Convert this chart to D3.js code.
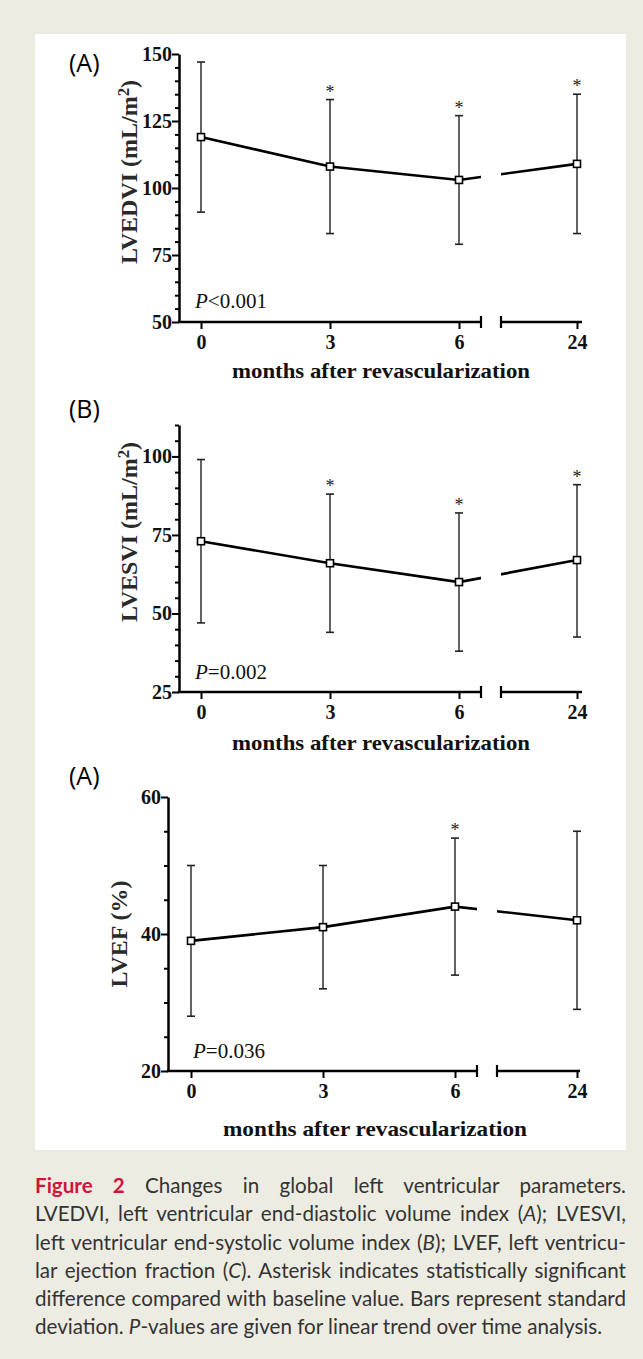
<!DOCTYPE html>
<html>
<head>
<meta charset="utf-8">
<script src="https://cdn.jsdelivr.net/npm/d3@7"></script>
<style>
  body { margin: 0; background: #edece3; }
  #container { position: relative; width: 643px; height: 1359px; }
  #container svg { position: absolute; left: 0; top: 0; }
  #caption { position: absolute; left: 35px; top: 1171px; width: 591px;
    font-family: Lato, "Open Sans", sans-serif; font-size: 20.6px; line-height: 28.3px; color: #333; }
  #caption .ln { text-align: justify; text-align-last: justify; white-space: nowrap; }
  #caption .ln.last { text-align-last: left; }
  #caption .fig { color: #d0143c; font-weight: bold; }
</style>
</head>
<body>
<div id="container">
  <div id="caption">
    <div class="ln"><span class="fig">Figure 2</span> Changes in global left ventricular parameters.</div>
    <div class="ln">LVEDVI, left ventricular end-diastolic volume index (<i>A</i>); LVESVI,</div>
    <div class="ln">left ventricular end-systolic volume index (<i>B</i>); LVEF, left ventricu-</div>
    <div class="ln">lar ejection fraction (<i>C</i>). Asterisk indicates statistically significant</div>
    <div class="ln">difference compared with baseline value. Bars represent standard</div>
    <div class="ln last">deviation. <i>P</i>-values are given for linear trend over time analysis.</div>
  </div>
</div>
<script>
const months = [0, 3, 6, 24];
const monthLabels = ["0", "3", "6", "24"];

const lvedviMean = [119, 108, 103, 109];
const lvedviHigh = [147, 133, 127, 135];
const lvedviLow = [91, 83, 79, 83];
const lvedviStar = [false, true, true, true];
const lvedviTicks = [50, 75, 100, 125, 150];

const lvesviMean = [73, 66, 60, 67];
const lvesviHigh = [99, 88, 82, 91];
const lvesviLow = [47, 44, 38, 42.5];
const lvesviStar = [false, true, true, true];
const lvesviTicks = [25, 50, 75, 100];

const lvefMean = [39, 41, 44, 42];
const lvefHigh = [50, 50, 54, 55];
const lvefLow = [28, 32, 34, 29];
const lvefStar = [false, false, true, false];
const lvefTicks = [20, 40, 60];

const serif = '"Liberation Serif", "Times New Roman", serif';

const svg = d3.select('#container')
    .insert('svg', '#caption').attr('width', 643).attr('height', 1359);

svg.append('rect').attr('x', 35).attr('y', 34).attr('width', 591).attr('height', 1116).attr('fill', '#fff');

let clipId = 0;

const drawPanel = (svg, specs, mean, high, low, star, ticks) => {
    const y = d3.scaleLinear().domain(specs.yDomain).range([specs.bottom, specs.top]);
    const x = d3.scaleLinear().domain([0, 6, 24]).range(specs.xRange);
    const g = svg.append('g');

    // panel letter
    g.append('text').attr('x', 69).attr('y', specs.labelY).attr('dy', '0.35em')
        .attr('font-family', '"Open Sans", sans-serif').attr('font-size', 25).text(specs.label);

    // y axis, major + minor ticks
    const minor = d3.range(specs.yDomain[0], specs.yDomain[1] + 0.1, 5).filter(v => !ticks.includes(v));
    const yMinor = g.append('g').attr('transform', `translate(${specs.axisX},0)`)
        .call(d3.axisLeft(y).tickValues(minor).tickSize(4).tickFormat(''));
    yMinor.select('.domain').remove();
    yMinor.selectAll('line').attr('stroke-width', 2);
    const yAxis = g.append('g').attr('transform', `translate(${specs.axisX},0)`)
        .call(d3.axisLeft(y).tickValues(ticks).tickSize(7).tickPadding(0).tickSizeOuter(0));
    yAxis.select('.domain').attr('stroke-width', 2.5);
    yAxis.selectAll('line').attr('stroke-width', 2);
    yAxis.selectAll('text').attr('font-family', serif).attr('font-weight', 'bold')
        .attr('font-size', 20).attr('fill', '#111');

    // x axis with break
    const xAxis = g.append('g').attr('transform', `translate(0,${specs.bottom})`)
        .call(d3.axisBottom(x).tickValues(months).tickSize(7).tickPadding(6)
            .tickFormat((d, i) => monthLabels[i]));
    xAxis.select('.domain').remove();
    xAxis.selectAll('line').attr('stroke-width', 2);
    xAxis.selectAll('text').attr('font-family', serif).attr('font-weight', 'bold')
        .attr('font-size', 20).attr('fill', '#111');
    const segs = [[specs.axisX, specs.brk[0]], [specs.brk[1], specs.end]];
    segs.forEach(s => {
        g.append('line').attr('x1', s[0] - (s[0] === specs.axisX ? 1.2 : 0)).attr('x2', s[1])
            .attr('y1', specs.bottom).attr('y2', specs.bottom)
            .attr('stroke', '#000').attr('stroke-width', 2.5);
    });
    specs.brk.forEach(bx => {
        g.append('line').attr('x1', bx).attr('x2', bx)
            .attr('y1', specs.bottom - 6).attr('y2', specs.bottom + 6)
            .attr('stroke', '#000').attr('stroke-width', 2.2);
    });

    // axis titles
    const yt = g.append('text')
        .attr('transform', `translate(${specs.yTitleX},${specs.yTitleY}) rotate(-90)`)
        .attr('text-anchor', 'middle').attr('font-family', serif).attr('font-weight', 'bold')
        .attr('font-size', specs.yTitleSize).attr('fill', '#2a2a2a');
    yt.append('tspan').text(specs.yTitle[0]);
    if (specs.yTitle[1]) {
        yt.append('tspan').attr('font-size', '70%').attr('dy', '-0.5em').text(specs.yTitle[1]);
        yt.append('tspan').attr('dy', '0.35em').text(specs.yTitle[2]);
    }
    g.append('text').attr('x', specs.xTitleX).attr('y', specs.xTitleY).attr('dy', '0.35em')
        .attr('text-anchor', 'middle').attr('font-family', serif).attr('font-weight', 'bold')
        .attr('font-size', 21).attr('fill', '#111')
        .attr('textLength', specs.xTitleLen).attr('lengthAdjust', 'spacingAndGlyphs')
        .text('months after revascularization');

    // P value
    const pt = g.append('text').attr('x', specs.pX).attr('y', specs.pY).attr('dy', '0.35em')
        .attr('font-family', serif).attr('font-size', 21).attr('fill', '#111');
    pt.append('tspan').attr('font-style', 'italic').text('P');
    pt.append('tspan').text(specs.pText);

    // mean line, interrupted at the axis break
    const cid = 'clip' + (clipId++);
    const cp = svg.append('clipPath').attr('id', cid);
    cp.append('rect').attr('x', 0).attr('y', 0).attr('width', specs.brk[0]).attr('height', 1359);
    cp.append('rect').attr('x', specs.brk[1]).attr('y', 0).attr('width', 643 - specs.brk[1]).attr('height', 1359);
    const line = d3.line().x((d, i) => x(months[i])).y(d => y(d));
    g.append('path').attr('d', line(mean)).attr('clip-path', `url(#${cid})`)
        .attr('fill', 'none').attr('stroke', '#000').attr('stroke-width', 2.6);

    // error bars
    months.forEach((m, i) => {
        const cx = x(m);
        g.append('line').attr('x1', cx).attr('x2', cx).attr('y1', y(low[i])).attr('y2', y(high[i]))
            .attr('stroke', '#222').attr('stroke-width', 1.4);
        [low[i], high[i]].forEach(v => {
            g.append('line').attr('x1', cx - 4).attr('x2', cx + 4).attr('y1', y(v)).attr('y2', y(v))
                .attr('stroke', '#222').attr('stroke-width', 1.6);
        });
        if (star[i]) {
            g.append('text').attr('x', cx).attr('y', y(high[i]) - 2).attr('text-anchor', 'middle')
                .attr('font-family', serif).attr('font-size', 18).attr('fill', '#222').text('*');
        }
    });

    // markers
    g.selectAll('rect.mk').data(mean).join('rect').attr('class', 'mk')
        .attr('x', (d, i) => x(months[i]) - 3.5).attr('y', d => y(d) - 3.5)
        .attr('width', 7).attr('height', 7)
        .attr('fill', '#fff').attr('stroke', '#000').attr('stroke-width', 1.6);
};

drawPanel(svg, {
    label: '(A)', labelY: 63, yDomain: [50, 150], top: 54, bottom: 322, axisX: 179,
    xRange: [201, 459, 577], brk: [481, 501], end: 582,
    yTitle: ['LVEDVI (mL/m', '2', ')'], yTitleX: 137, yTitleY: 172, yTitleSize: 24,
    xTitleX: 381, xTitleY: 371, xTitleLen: 298, pText: '<0.001', pX: 195, pY: 301
}, lvedviMean, lvedviHigh, lvedviLow, lvedviStar, lvedviTicks);

drawPanel(svg, {
    label: '(B)', labelY: 409, yDomain: [25, 110], top: 425, bottom: 692, axisX: 179,
    xRange: [201, 459, 577], brk: [481, 501], end: 582,
    yTitle: ['LVESVI (mL/m', '2', ')'], yTitleX: 137, yTitleY: 532, yTitleSize: 24,
    xTitleX: 381, xTitleY: 743, xTitleLen: 298, pText: '=0.002', pX: 195, pY: 672
}, lvesviMean, lvesviHigh, lvesviLow, lvesviStar, lvesviTicks);

drawPanel(svg, {
    label: '(A)', labelY: 776, yDomain: [20, 60], top: 797, bottom: 1071, axisX: 168,
    xRange: [191, 455, 577], brk: [477, 497], end: 580,
    yTitle: ['LVEF (%)'], yTitleX: 127, yTitleY: 934, yTitleSize: 24,
    xTitleX: 375, xTitleY: 1129, xTitleLen: 304, pText: '=0.036', pX: 193, pY: 1051
}, lvefMean, lvefHigh, lvefLow, lvefStar, lvefTicks);
</script>
</body>
</html>
